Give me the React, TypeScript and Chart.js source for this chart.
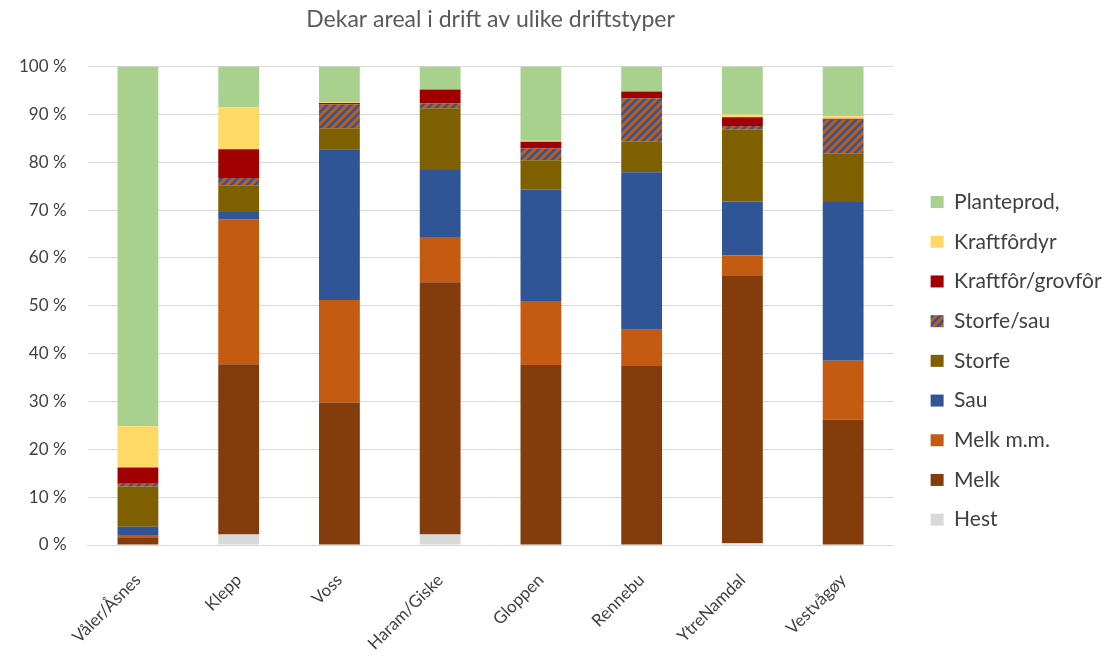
import React, { useEffect, useRef } from "react";
import { Chart, registerables } from "chart.js";

Chart.register(...registerables);

const categories = ["Våler/Åsnes", "Klepp", "Voss", "Haram/Giske", "Gloppen", "Rennebu", "YtreNamdal", "Vestvågøy"];

const hest = [0, 2.2, 0, 2.2, 0, 0, 0.4, 0];
const melk = [1.6, 35.6, 29.8, 52.7, 37.6, 37.4, 56.0, 26.2];
const melkMm = [0.5, 30.3, 21.4, 9.5, 13.4, 7.6, 4.1, 12.3];
const sau = [1.7, 1.5, 31.5, 14.0, 23.3, 32.9, 11.3, 33.2];
const storfe = [8.4, 5.6, 4.4, 12.9, 6.1, 6.4, 15.0, 10.2];
const storfeSau = [0.6, 1.5, 5.0, 1.0, 2.5, 9.1, 0.8, 7.0];
const kraftforGrovfor = [3.4, 6.0, 0.3, 2.9, 1.4, 1.4, 1.8, 0.2];
const kraftfordyr = [8.6, 8.8, 0.2, 0.1, 0.2, 0.1, 0.6, 0.5];
const planteprod = [75.2, 8.5, 7.4, 4.7, 15.5, 5.1, 10.0, 10.4];

const yTicks = [0, 10, 20, 30, 40, 50, 60, 70, 80, 90, 100];

const FONT = "Lato, 'Open Sans', sans-serif";

function makeStripePattern(): CanvasPattern | string {
  const c = document.createElement("canvas");
  c.width = 8;
  c.height = 8;
  const ctx = c.getContext("2d");
  if (!ctx) return "#C55A11";
  ctx.fillStyle = "#C55A11";
  ctx.fillRect(0, 0, 8, 8);
  ctx.strokeStyle = "#2F5597";
  ctx.lineWidth = 2.5;
  ctx.beginPath();
  ctx.moveTo(-2, 10);
  ctx.lineTo(10, -2);
  ctx.moveTo(-6, 6);
  ctx.lineTo(6, -6);
  ctx.moveTo(2, 14);
  ctx.lineTo(14, 2);
  ctx.stroke();
  const p = ctx.createPattern(c, "repeat");
  return p || "#C55A11";
}

const widenLegend = {
  id: "widenLegend",
  beforeLayout(chart: any) {
    const lg = chart.legend;
    if (lg && !lg.__widened) {
      const orig = lg.fit.bind(lg);
      lg.fit = function () {
        orig();
        this.width += 12;
      };
      lg.__widened = true;
    }
  },
};

export default function App() {
  const ref = useRef<HTMLCanvasElement | null>(null);

  useEffect(() => {
    if (!ref.current) return;
    const stripes = makeStripePattern();
    const chart = new Chart(ref.current, {
      type: "bar",
      data: {
        labels: categories,
        datasets: [
          { label: "Hest", data: hest, backgroundColor: "#D9D9D9" },
          { label: "Melk", data: melk, backgroundColor: "#843C0C" },
          { label: "Melk m.m.", data: melkMm, backgroundColor: "#C55A11" },
          { label: "Sau", data: sau, backgroundColor: "#2F5597" },
          { label: "Storfe", data: storfe, backgroundColor: "#7F6000" },
          { label: "Storfe/sau", data: storfeSau, backgroundColor: stripes as any },
          { label: "Kraftfôr/grovfôr", data: kraftforGrovfor, backgroundColor: "#A00000" },
          { label: "Kraftfôrdyr", data: kraftfordyr, backgroundColor: "#FFD966" },
          { label: "Planteprod,", data: planteprod, backgroundColor: "#A9D18E" },
        ],
      },
      plugins: [widenLegend],
      options: {
        animation: false,
        responsive: false,
        maintainAspectRatio: false,
        layout: { padding: { left: -2, right: -5.1, top: 0, bottom: 0 } },
        datasets: { bar: { categoryPercentage: 1, barPercentage: 0.405, borderWidth: 0 } },
        plugins: {
          tooltip: { enabled: false },
          title: {
            display: true,
            fullSize: false,
            text: "Dekar areal i drift av ulike driftstyper",
            color: "#595959",
            font: { family: FONT, size: 23, weight: "normal" },
            padding: { top: 6, bottom: 33 },
          },
          legend: {
            position: "right",
            reverse: true,
            title: { display: true, text: "", padding: { top: 33.5, bottom: 30 }, font: { size: 1 } },
            labels: {
              boxWidth: 13,
              boxHeight: 12,
              padding: 18.7,
              color: "#404040",
              font: { family: FONT, size: 21 },
            },
          },
        },
        scales: {
          x: {
            stacked: true,
            grid: { display: false, drawTicks: false },
            border: { display: true, color: "#D9D9D9" },
            ticks: {
              color: "#404040",
              font: { family: FONT, size: 17 },
              maxRotation: 45,
              minRotation: 45,
              padding: 25,
            },
            afterFit: (s: any) => {
              s.paddingLeft = 0;
              s.paddingRight = 0;
              s.height = 112;
            },
          },
          y: {
            stacked: true,
            min: 0,
            max: 100,
            afterBuildTicks: (axis: any) => {
              axis.ticks = yTicks.map((v) => ({ value: v }));
            },
            grid: { color: "#D9D9D9", drawTicks: false },
            border: { display: false },
            ticks: {
              color: "#404040",
              font: { family: FONT, size: 17 },
              padding: 21,
              callback: (v: any) => `${v} %`,
            },
          },
          gap: {
            type: "linear",
            position: "right",
            display: true,
            grid: { display: false, drawOnChartArea: false, drawTicks: false },
            border: { display: false },
            ticks: { display: false },
            afterFit: (s: any) => {
              s.width = 18.4;
            },
          },
        },
      },
    });
    return () => chart.destroy();
  }, []);

  return (
    <div style={{ position: "absolute", left: 0, top: 0, width: 1104, height: 657 }}>
      <canvas ref={ref} width={1104} height={657} style={{ display: "block" }} />
    </div>
  );
}
